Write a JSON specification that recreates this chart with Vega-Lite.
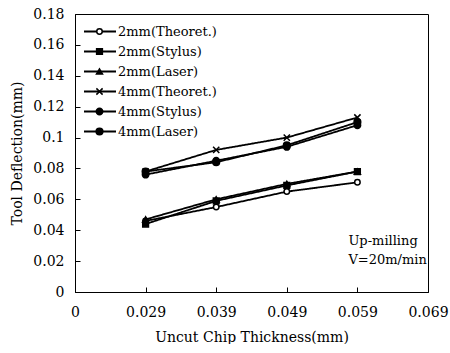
{
  "$schema": "https://vega.github.io/schema/vega-lite/v6.json",
  "width": 353,
  "height": 278,
  "padding": {"left": 10, "top": 7, "right": 0, "bottom": 0},
  "config": {
    "font": "DejaVu Serif",
    "view": {"stroke": "black", "strokeWidth": 1},
    "axis": {
      "labelFont": "DejaVu Serif",
      "titleFont": "DejaVu Serif",
      "labelColor": "black",
      "titleColor": "black",
      "labelFontSize": 14,
      "titleFontSize": 14,
      "titleFontWeight": "normal",
      "domainColor": "black",
      "tickColor": "black",
      "grid": false
    },
    "legend": {
      "labelFont": "DejaVu Serif",
      "labelFontSize": 13,
      "labelColor": "black"
    }
  },
  "datasets": {
    "deflection": [
      {"h": "0.029", "d": 0.046, "series": "2mm(Theoret.)"},
      {"h": "0.039", "d": 0.055, "series": "2mm(Theoret.)"},
      {"h": "0.049", "d": 0.065, "series": "2mm(Theoret.)"},
      {"h": "0.059", "d": 0.071, "series": "2mm(Theoret.)"},
      {"h": "0.029", "d": 0.044, "series": "2mm(Stylus)"},
      {"h": "0.039", "d": 0.059, "series": "2mm(Stylus)"},
      {"h": "0.049", "d": 0.069, "series": "2mm(Stylus)"},
      {"h": "0.059", "d": 0.078, "series": "2mm(Stylus)"},
      {"h": "0.029", "d": 0.047, "series": "2mm(Laser)"},
      {"h": "0.039", "d": 0.060, "series": "2mm(Laser)"},
      {"h": "0.049", "d": 0.070, "series": "2mm(Laser)"},
      {"h": "0.059", "d": 0.078, "series": "2mm(Laser)"},
      {"h": "0.029", "d": 0.078, "series": "4mm(Theoret.)"},
      {"h": "0.039", "d": 0.092, "series": "4mm(Theoret.)"},
      {"h": "0.049", "d": 0.100, "series": "4mm(Theoret.)"},
      {"h": "0.059", "d": 0.113, "series": "4mm(Theoret.)"},
      {"h": "0.029", "d": 0.076, "series": "4mm(Stylus)"},
      {"h": "0.039", "d": 0.085, "series": "4mm(Stylus)"},
      {"h": "0.049", "d": 0.094, "series": "4mm(Stylus)"},
      {"h": "0.059", "d": 0.108, "series": "4mm(Stylus)"},
      {"h": "0.029", "d": 0.078, "series": "4mm(Laser)"},
      {"h": "0.039", "d": 0.084, "series": "4mm(Laser)"},
      {"h": "0.049", "d": 0.095, "series": "4mm(Laser)"},
      {"h": "0.059", "d": 0.110, "series": "4mm(Laser)"}
    ],
    "notes": [
      {"h": "0.059", "d": 0.033, "note": "Up-milling"},
      {"h": "0.059", "d": 0.021, "note": "V=20m/min"}
    ]
  },
  "encoding": {
    "x": {
      "field": "h",
      "type": "ordinal",
      "scale": {"type": "point", "domain": ["0", "0.029", "0.039", "0.049", "0.059", "0.069"], "padding": 0},
      "axis": {"title": "Uncut Chip Thickness(mm)", "labelAngle": 0, "tickSize": -5, "labelPadding": 18, "titlePadding": 11}
    },
    "y": {
      "field": "d",
      "type": "quantitative",
      "scale": {"domain": [0, 0.18], "nice": false},
      "axis": {
        "title": "Tool Deflection(mm)",
        "values": [0, 0.02, 0.04, 0.06, 0.08, 0.1, 0.12, 0.14, 0.16, 0.18],
        "format": "~g",
        "tickSize": -5,
        "labelPadding": 16,
        "titlePadding": 8
      }
    }
  },
  "layer": [
    {
      "data": {"name": "deflection"},
      "mark": {"type": "line", "stroke": "black", "strokeWidth": 1.8},
      "encoding": {
        "strokeDash": {
          "field": "series",
          "type": "nominal",
          "scale": {"range": [[1, 0], [1, 0], [1, 0], [1, 0], [1, 0], [1, 0]]},
          "legend": {
            "orient": "none",
            "legendX": 8,
            "legendY": 11,
            "title": null,
            "symbolType": "stroke",
            "symbolSize": 1024,
            "symbolStrokeWidth": 1.8,
            "symbolStrokeColor": "black",
            "labelColor": "transparent",
            "labelOffset": 3,
            "clipHeight": 13,
            "rowPadding": 6
          }
        }
      }
    },
    {
      "data": {"name": "deflection"},
      "mark": {"type": "point", "stroke": "black", "strokeWidth": 1.5, "opacity": 1},
      "encoding": {
        "shape": {
          "field": "series",
          "type": "nominal",
          "scale": {
            "domain": ["2mm(Theoret.)", "2mm(Stylus)", "2mm(Laser)", "4mm(Theoret.)", "4mm(Stylus)", "4mm(Laser)"],
            "range": ["circle", "square", "triangle-up", "M-1,-1L1,1M-1,1L1,-1", "circle", "circle"]
          },
          "legend": {
            "orient": "none",
            "legendX": 18,
            "legendY": 11,
            "title": null,
            "symbolStrokeColor": "black",
            "symbolStrokeWidth": 1.5,
            "labelOffset": 12,
            "clipHeight": 13,
            "rowPadding": 6
          }
        },
        "fill": {
          "field": "series",
          "type": "nominal",
          "scale": {
            "domain": ["2mm(Theoret.)", "2mm(Stylus)", "2mm(Laser)", "4mm(Theoret.)", "4mm(Stylus)", "4mm(Laser)"],
            "range": ["white", "black", "black", "transparent", "black", "black"]
          }
        },
        "size": {
          "field": "series",
          "type": "nominal",
          "scale": {
            "domain": ["2mm(Theoret.)", "2mm(Stylus)", "2mm(Laser)", "4mm(Theoret.)", "4mm(Stylus)", "4mm(Laser)"],
            "range": [30, 45, 45, 50, 55, 45]
          }
        }
      }
    },
    {
      "data": {"name": "notes"},
      "mark": {"type": "text", "align": "left", "dx": -9, "font": "DejaVu Serif", "fontSize": 13, "color": "black"},
      "encoding": {"text": {"field": "note"}}
    }
  ]
}
